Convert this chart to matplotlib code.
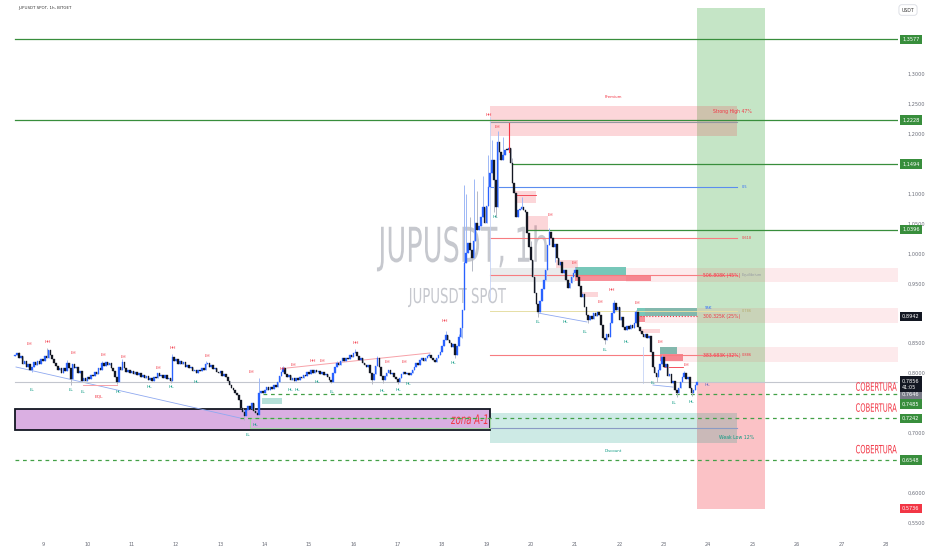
import numpy as np
import matplotlib
matplotlib.use('Agg')
import matplotlib.pyplot as plt
from matplotlib.textpath import TextPath
from matplotlib.patches import PathPatch, Rectangle
from matplotlib.font_manager import FontProperties
from matplotlib.transforms import Affine2D

# JUPUSDT spot, 1h candles (closes), first candle day 8 09:00
closes = [
    0.830, 0.834, 0.826, 0.829, 0.816, 0.820, 0.811, 0.815, 0.806, 0.810,
    0.818, 0.813, 0.821, 0.816, 0.824, 0.821, 0.829, 0.826, 0.838, 0.831,
    0.824, 0.817, 0.812, 0.806, 0.809, 0.801, 0.808, 0.804, 0.817, 0.809,
    0.790, 0.815, 0.808, 0.811, 0.800, 0.803, 0.787, 0.791, 0.786, 0.793,
    0.790, 0.797, 0.795, 0.802, 0.799, 0.808, 0.805, 0.817, 0.812, 0.818,
    0.813, 0.817, 0.808, 0.803, 0.794, 0.785, 0.810, 0.806, 0.819, 0.808,
    0.802, 0.806, 0.801, 0.804, 0.799, 0.802, 0.797, 0.800, 0.794, 0.797,
    0.792, 0.795, 0.789, 0.792, 0.787, 0.794, 0.791, 0.800, 0.795, 0.797,
    0.792, 0.796, 0.790, 0.792, 0.787, 0.827, 0.820, 0.823, 0.816, 0.820,
    0.815, 0.818, 0.811, 0.814, 0.808, 0.810, 0.803, 0.806, 0.801, 0.806,
    0.803, 0.809, 0.806, 0.815, 0.817, 0.811, 0.814, 0.807, 0.809, 0.802,
    0.800, 0.803, 0.795, 0.798, 0.793, 0.786, 0.780, 0.775, 0.771, 0.767,
    0.763, 0.755, 0.742, 0.735, 0.728, 0.738, 0.745, 0.740, 0.750, 0.736,
    0.733, 0.730, 0.767, 0.770, 0.766, 0.772, 0.776, 0.771, 0.777, 0.774,
    0.780, 0.777, 0.785, 0.795, 0.802, 0.808, 0.798, 0.793, 0.796, 0.788,
    0.791, 0.787, 0.792, 0.789, 0.794, 0.791, 0.797, 0.795, 0.802, 0.799,
    0.805, 0.801, 0.806, 0.802, 0.804, 0.799, 0.802, 0.796, 0.798, 0.793,
    0.789, 0.785, 0.800, 0.810, 0.817, 0.813, 0.820, 0.825, 0.821, 0.826,
    0.824, 0.830, 0.827, 0.834, 0.835, 0.828, 0.822, 0.825, 0.817, 0.814,
    0.810, 0.813, 0.800, 0.788, 0.798, 0.812, 0.825, 0.810, 0.795, 0.788,
    0.795, 0.800, 0.805, 0.798, 0.801, 0.794, 0.790, 0.785, 0.792, 0.798,
    0.802, 0.798, 0.801, 0.797, 0.800, 0.805, 0.810, 0.817, 0.814, 0.822,
    0.825, 0.821, 0.826, 0.828, 0.830, 0.825, 0.822, 0.819, 0.825, 0.830,
    0.835, 0.845, 0.855, 0.864, 0.855, 0.850, 0.844, 0.848, 0.830, 0.845,
    0.860, 0.875, 0.906, 0.984, 1.000, 1.017, 1.005, 0.993, 1.020, 1.050,
    1.039, 1.045, 1.060, 1.077, 1.051, 1.080, 1.111, 1.135, 1.156, 1.122,
    1.077, 1.186, 1.170, 1.156, 1.165, 1.173, 1.172, 1.176, 1.151, 1.118,
    1.101, 1.061, 1.072, 1.075, 1.077, 1.073, 1.069, 1.034, 1.010, 0.989,
    0.960, 0.934, 0.915, 0.902, 0.920, 0.940, 0.955, 0.972, 1.014, 1.036,
    1.025, 1.011, 1.016, 0.993, 0.980, 0.985, 0.967, 0.972, 0.955, 0.942,
    0.950, 0.960, 0.968, 0.972, 0.960, 0.945, 0.927, 0.932, 0.910, 0.897,
    0.889, 0.896, 0.890, 0.900, 0.895, 0.902, 0.897, 0.880, 0.859, 0.855,
    0.865, 0.860, 0.884, 0.900, 0.917, 0.906, 0.910, 0.889, 0.893, 0.877,
    0.872, 0.878, 0.873, 0.880, 0.876, 0.884, 0.902, 0.877, 0.870, 0.865,
    0.860, 0.866, 0.858, 0.862, 0.835, 0.810, 0.800, 0.793, 0.805, 0.815,
    0.827, 0.810, 0.815, 0.795, 0.799, 0.783, 0.787, 0.772, 0.767, 0.775,
    0.785, 0.793, 0.800, 0.790, 0.794, 0.775, 0.767, 0.772, 0.780, 0.785,
]
first_open = 0.828
start_day = 8.375

# wicks that stick out of the bodies (candle index -> price)
wick_high = {2: 0.836, 17: 0.842, 28: 0.822, 47: 0.821, 58: 0.823, 85: 0.832,
             103: 0.820, 132: 0.792, 145: 0.812, 174: 0.820, 184: 0.840,
             196: 0.829, 224: 0.834, 233: 0.870, 240: 0.866,
             243: 1.115, 244: 1.100, 246: 1.060, 248: 1.125, 250: 1.105,
             253: 1.130, 256: 1.165, 258: 1.190, 261: 1.205, 264: 1.195,
             267: 1.218, 269: 1.160, 274: 1.095, 279: 1.020, 289: 1.042,
             303: 0.978, 324: 0.922, 336: 0.906, 350: 0.831, 362: 0.804}
wick_low = {9: 0.802, 30: 0.780, 55: 0.781, 84: 0.783, 124: 0.722, 129: 0.735,
            171: 0.783, 193: 0.782, 199: 0.783, 207: 0.781, 238: 0.826,
            242: 0.858, 247: 0.970, 259: 1.070, 260: 1.060, 283: 0.893,
            292: 0.985, 310: 0.883, 319: 0.848, 347: 0.785, 358: 0.760,
            366: 0.762}

day_ticks = list(range(9, 29))
price_ticks = [1.30, 1.25, 1.20, 1.10, 1.05, 1.00, 0.95, 0.85, 0.80, 0.70, 0.60, 0.55]

green_levels = [1.3577, 1.2228, 1.1494, 1.0396]
green_starts = [8.37, 8.37, 19.575, 19.913]
cover_levels = [0.7646, 0.7242, 0.6548]
cover_starts = [13.96, 13.44, 8.37]
cover_text_base = [0.7706, 0.7355, 0.6660]
last_price = 0.7856

badges = [("1,3577", 1.3577, '#388e3c'), ("1,2228", 1.2228, '#388e3c'),
          ("1,1494", 1.1494, '#388e3c'), ("1,0396", 1.0396, '#388e3c'),
          ("0,8942", 0.8942, '#131722'), ("0,7646", 0.7646, '#787b86'),
          ("0,7485", 0.7485, '#388e3c'), ("0,7242", 0.7242, '#388e3c'),
          ("0,6548", 0.6548, '#388e3c'), ("0,5736", 0.5736, '#f23645')]

red_labels = [("LH", 8.684, 0.8486), ("HH", 9.113, 0.8520), ("LH", 9.676, 0.8336),
              ("LH", 10.353, 0.8302), ("LH", 10.804, 0.8269), ("LH", 11.593, 0.8085),
              ("HH", 11.931, 0.8420), ("LH", 12.698, 0.8286), ("LH", 13.690, 0.8018),
              ("HH", 14.411, 0.8068), ("LH", 14.637, 0.8135), ("HH", 15.088, 0.8202),
              ("LH", 15.290, 0.8202), ("HH", 16.058, 0.8503), ("LH", 16.757, 0.8185),
              ("LH", 17.140, 0.8185), ("HH", 18.064, 0.8871), ("HH", 19.057, 1.2313),
              ("LH", 19.237, 1.2112), ("LH", 20.432, 1.0642), ("LH", 20.973, 0.9840),
              ("LH", 21.559, 0.9188), ("HH", 21.830, 0.9389), ("LH", 22.393, 0.9171),
              ("LH", 22.912, 0.8520), ("LH", 23.498, 0.8135), ("EQL", 10.263, 0.7601)]
green_labels = [("LL", 8.752, 0.7718), ("LL", 9.631, 0.7718), ("LL", 9.902, 0.7684),
                ("HL", 10.691, 0.7684), ("HL", 11.390, 0.7768), ("HL", 11.886, 0.7768),
                ("HL", 12.450, 0.7851), ("LL", 13.622, 0.6966), ("HL", 13.780, 0.7133),
                ("HL", 14.569, 0.7718), ("HL", 14.727, 0.7718), ("HL", 15.178, 0.7851),
                ("LL", 15.516, 0.7684), ("HL", 16.644, 0.7701), ("HL", 17.005, 0.7718),
                ("HL", 17.230, 0.7818), ("HL", 18.245, 0.8169), ("HL", 19.192, 1.0608),
                ("LL", 20.161, 0.8854), ("HL", 20.770, 0.8854), ("LL", 21.221, 0.8687),
                ("LL", 21.672, 0.8386), ("HL", 22.145, 0.8520), ("LL", 22.754, 0.7835),
                ("LL", 23.228, 0.7501), ("HL", 23.611, 0.7517)]

x_left, x_right = 8.0304, 28.2785
y_low, y_high = 0.5295, 1.4234

fig = plt.figure(figsize=(9.32, 5.5), dpi=100)
ax = fig.add_axes([0, 15 / 550, 898 / 932, 535 / 550])
ax.set_xlim(x_left, x_right)
ax.set_ylim(y_low, y_high)
for s in ax.spines.values():
    s.set_visible(False)


def box(x0, x1, y0, y1, color, alpha, z=1, **kw):
    ax.add_patch(Rectangle((x0, y0), x1 - x0, y1 - y0, fc=color, alpha=alpha,
                           ec='none', zorder=z, **kw))


def stretched_text(s, x0, x1, base, cap, color, style='normal', z=1, alpha=1.0):
    tp = TextPath((0, 0), s, size=1, prop=FontProperties(family='DejaVu Sans', style=style))
    ext = tp.get_extents()
    tr = Affine2D().translate(-ext.x0, 0).scale((x1 - x0) / ext.width, cap / 0.729)
    tr = tr.translate(x0, base) + ax.transData
    ax.add_patch(PathPatch(tp, transform=tr, fc=color, ec='none', zorder=z, alpha=alpha))


# long/short position boxes
box(23.746, 25.280, last_price, 1.410, '#4caf50', 0.32, z=0.5)
box(23.746, 25.280, 0.5729, last_price, '#f23645', 0.30, z=0.5)

# premium / discount
box(19.079, 24.648, 1.1962, 1.2463, '#f23645', 0.2)
ax.plot([19.079, 24.648], [1.2196, 1.2196], color='#9598a1', lw=0.8, zorder=1.2)
ax.text(21.852, 1.2613, "Premium", color='#f23645', fontsize=2.8, ha='center', va='center')
ax.text(24.55, 1.2379, "Strong High 47%", color='#f23645', fontsize=3.3, ha='center', va='center')
box(19.079, 24.648, 0.6832, 0.7333, '#089981', 0.2)
ax.plot([19.079, 24.648], [0.7083, 0.7083], color='#8a9bc4', lw=0.8, zorder=1.2)
ax.text(21.852, 0.6698, "Discount", color='#089981', fontsize=2.8, ha='center', va='center')
ax.text(24.65, 0.6916, "Weak Low 12%", color='#089981', fontsize=3.3, ha='center', va='center')

# zona A-1
ax.add_patch(Rectangle((8.369, 0.7049), 19.079 - 8.369, 0.7395 - 0.7049, fc='#c27bd0',
                       alpha=0.6, ec='none', zorder=1))
ax.add_patch(Rectangle((8.369, 0.7049), 19.079 - 8.369, 0.7395 - 0.7049, fill=False,
                       ec='#131722', lw=1.3, zorder=1.3))
stretched_text("zona A-1", 18.20, 19.02, 0.7150, 0.0160, '#f23645', style='italic', z=2)
ax.add_patch(Rectangle((13.667, 0.7083), 19.079 - 13.667, 0.7250 - 0.7083, fill=False,
                       ec='#a5d6a7', lw=0.8, zorder=1.4))
box(13.938, 14.389, 0.7484, 0.7584, '#089981', 0.3)

# volume zones
box(19.079, 20.995, 0.9522, 0.9756, '#787b86', 0.15)
box(20.995, 22.145, 0.9639, 0.9773, '#089981', 0.55)
box(20.995, 22.709, 0.9539, 0.9639, '#f23645', 0.55)
box(22.145, x_right, 0.9522, 0.9756, '#f23645', 0.1)
box(22.393, 23.746, 0.8954, 0.9088, '#089981', 0.55)
box(22.393, 22.574, 0.8854, 0.8954, '#f23645', 0.55)
box(22.574, x_right, 0.8837, 0.9088, '#f23645', 0.1)
box(22.912, 23.296, 0.8319, 0.8436, '#089981', 0.55)
box(22.912, 23.431, 0.8202, 0.8319, '#f23645', 0.55)
box(22.912, x_right, 0.8185, 0.8436, '#f23645', 0.1)
ax.plot([19.079, 24.648], [0.9639, 0.9639], color='#f77c80', lw=0.8, zorder=1.2)
ax.plot([19.079, 24.648], [0.8302, 0.8302], color='#f77c80', lw=0.8, zorder=1.2)
ax.plot([22.461, 23.746], [0.8954, 0.8954], color='#f23645', lw=0.8, ls=':', zorder=1.2)
ax.plot([19.079, 24.648], [0.9038, 0.9038], color='#e6dfa5', lw=0.7, zorder=1.2)
ax.text(23.88, 0.9639, "506.808K (45%)", color='#f23645', fontsize=3.3, va='center')
ax.text(23.88, 0.8954, "300.325K (25%)", color='#f23645', fontsize=3.3, va='center')
ax.text(23.88, 0.8302, "383.683K (32%)", color='#f23645', fontsize=3.3, va='center')
ax.text(23.93, 0.9088, "95K", color='#2962ff', fontsize=2.8, va='center')
ax.text(24.76, 0.9639, "Equilibrium", color='#9598a1', fontsize=2.5, va='center')

# supply boxes
for x0, x1, y0, y1 in [(19.643, 20.116, 1.0842, 1.1043), (19.936, 20.387, 1.0391, 1.0625),
                       (20.567, 21.063, 0.9756, 0.9890), (21.108, 21.514, 0.9272, 0.9355),
                       (22.461, 22.912, 0.8670, 0.8737)]:
    box(x0, x1, y0, y1, '#f23645', 0.2)
ax.plot([19.643, 20.116], [1.0976, 1.0976], color='#f23645', lw=0.6, zorder=1.2)
ax.plot([23.0, 23.431], [0.8107, 0.8107], color='#f23645', lw=0.6, zorder=1.2)

# fib style lines
ax.plot([19.079, 24.648], [1.1110, 1.1110], color='#5b8def', lw=0.8, zorder=1.2)
ax.text(24.76, 1.1110, "0.5", color='#2962ff', fontsize=2.5, va='center')
ax.plot([19.079, 24.648], [1.0257, 1.0257], color='#f77c80', lw=0.8, zorder=1.2)
ax.text(24.76, 1.0257, "0.618", color='#f23645', fontsize=2.5, va='center')
ax.text(24.76, 0.9038, "0.786", color='#b5a96a', fontsize=2.5, va='center')
ax.text(24.76, 0.8302, "0.886", color='#f23645', fontsize=2.5, va='center')

# trend lines
ax.plot([8.391, 13.442], [0.8102, 0.7250], color='#8fa9f0', lw=0.6, zorder=1.5)
ax.plot([14.502, 17.726], [0.8085, 0.8336], color='#f7a1a8', lw=0.7, zorder=1.5)
ax.plot([9.902, 10.669], [0.7801, 0.7801], color='#f7a1a8', lw=0.7, zorder=1.5)
ax.plot([20.161, 21.266], [0.9004, 0.8854], color='#8fa9f0', lw=0.6, zorder=1.5)
ax.plot([22.754, 23.205], [0.7801, 0.7767], color='#8fa9f0', lw=0.6, zorder=1.5)
ax.plot([19.079, 19.079], [0.922, 1.228], color='#c5d3f6', lw=0.6, zorder=1.5)
ax.plot([22.529, 22.529], [0.7835, 0.8436], color='#c5d3f6', lw=0.6, zorder=1.5)

# horizontal levels
for lv, x0 in zip(green_levels, green_starts):
    ax.plot([x0, x_right], [lv, lv], color='#388e3c', lw=0.9, zorder=2)
for lv, x0, tb in zip(cover_levels, cover_starts, cover_text_base):
    ax.plot([x0, x_right], [lv, lv], color='#43a047', lw=0.9, dashes=(3, 3), zorder=2)
    stretched_text("COBERTURA", 27.33, 28.25, tb, 0.0139, '#f23645', z=5)
ax.plot([8.369, x_right], [last_price, last_price], color='#c3c6ce', lw=0.8, zorder=1.6)

# watermark
stretched_text("JUPUSDT, 1h", 16.53, 20.36, 0.986, 0.0585, '#c6c8ce', z=0.8)
stretched_text("JUPUSDT SPOT", 17.23, 19.44, 0.9171, 0.0251, '#c6c8ce', z=0.8)

# candles
c = np.array(closes)
o = np.r_[first_open, c[:-1]]
t = start_day + np.arange(len(c)) / 24
hi = np.maximum(o, c)
lo = np.minimum(o, c)
for k, v in wick_high.items():
    hi[k] = max(hi[k], v)
for k, v in wick_low.items():
    lo[k] = min(lo[k], v)
up = c >= o
ax.vlines(t[up], lo[up], hi[up], color='#9fb8f5', lw=0.7, zorder=3)
ax.vlines(t[~up], lo[~up], hi[~up], color='#b4b8c4', lw=0.7, zorder=3)
ax.bar(t[up], np.maximum(c - o, 0.002)[up], bottom=o[up], width=0.85 / 24,
       color='#2962ff', edgecolor='#2962ff', linewidth=0.25, zorder=4)
ax.bar(t[~up], np.maximum(o - c, 0.002)[~up], bottom=c[~up], width=0.85 / 24,
       color='#131722', edgecolor='#131722', linewidth=0.25, zorder=4)
ax.plot([start_day + 267 / 24] * 2, [1.17, 1.218], color='#f23645', lw=0.8, zorder=4.5)

# structure labels
for s, d, p in red_labels:
    ax.text(d, p, s, color='#f23645', fontsize=3.2, ha='center', va='center', zorder=6)
for s, d, p in green_labels:
    ax.text(d, p, s, color='#089981', fontsize=3.2, ha='center', va='center', zorder=6)
ax.text(23.972, 0.7801, "HL", color='#5c6bc0', fontsize=3.2, ha='center', va='center', zorder=6)

# axes
ax.yaxis.tick_right()
ax.set_yticks(price_ticks)
ax.set_yticklabels([f"{v:.4f}".replace('.', ',') for v in price_ticks])
ax.tick_params(axis='y', length=0, pad=7, labelsize=3.6, labelcolor='#6a6d78')
ax.set_xticks(day_ticks)
ax.set_xticklabels([str(d) for d in day_ticks])
ax.tick_params(axis='x', length=0, pad=5, labelsize=3.6, labelcolor='#6a6d78')

ytr = ax.get_yaxis_transform()
for s, p, col in badges:
    ax.text(1.0045, p, s, transform=ytr, color='white', fontsize=3.6, ha='left', va='center',
            bbox=dict(boxstyle='square,pad=0.45', fc=col, ec='none'), clip_on=False, zorder=10)
ax.text(1.0045, last_price - 0.004, "0,7856\n41:05", transform=ytr, color='white', fontsize=3.6,
        ha='left', va='center', linespacing=1.3,
        bbox=dict(boxstyle='square,pad=0.45', fc='#131722', ec='none'), clip_on=False, zorder=10)

fig.text(18 / 932, 1 - 8 / 550, "JUPUSDT SPOT, 1h, BITGET", fontsize=2.9, color='#333333',
         va='center')
fig.text(908 / 932, 1 - 10 / 550, "USDT", fontsize=3.3, color='#333333', ha='center', va='center',
         bbox=dict(boxstyle='round,pad=0.6', fc='white', ec='#d1d4dc', lw=0.5))

plt.savefig('out.png', dpi=100)
